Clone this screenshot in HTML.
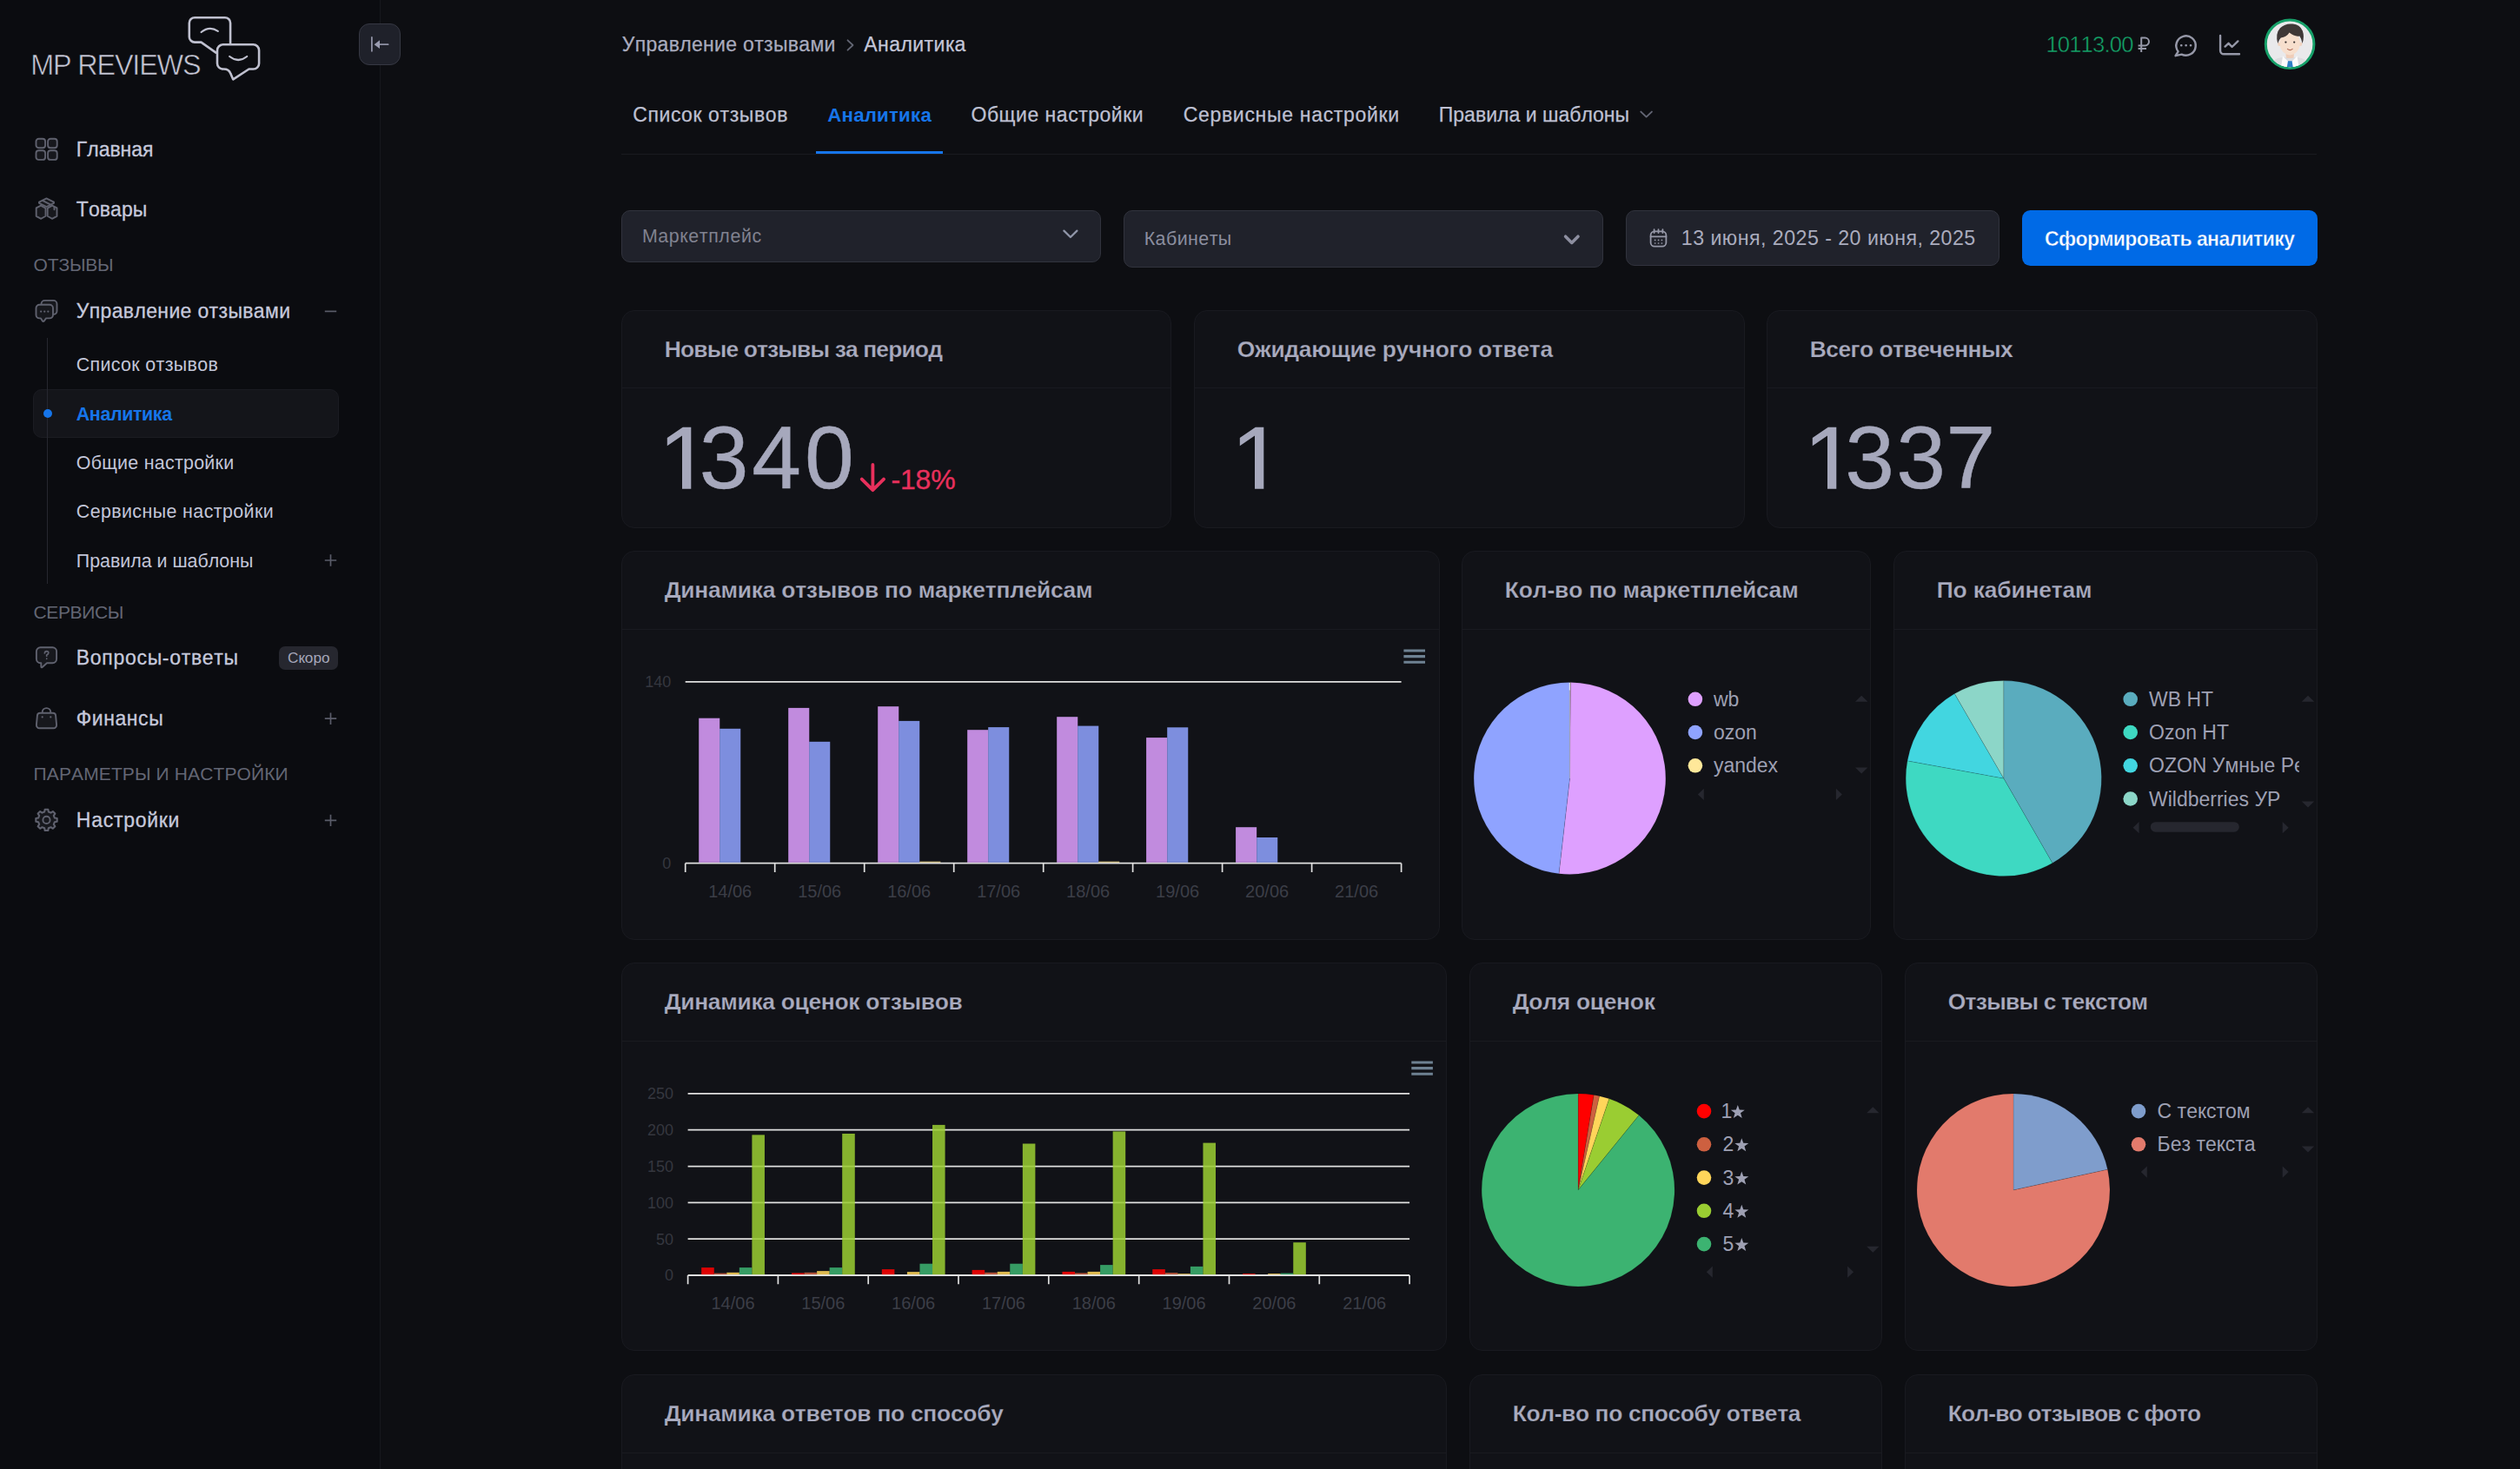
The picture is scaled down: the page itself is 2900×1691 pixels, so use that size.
<!DOCTYPE html>
<html lang="ru"><head><meta charset="utf-8"><title>MP Reviews — Аналитика</title>
<style>
html,body{margin:0;padding:0;background:#0d0e12;}
body{width:2900px;height:1691px;overflow:hidden;position:relative;font-family:"Liberation Sans",sans-serif;font-kerning:none;}
.t{position:absolute;white-space:nowrap;margin:0;}
.b{position:absolute;box-sizing:border-box;}
.card{background:#111217;border:1px solid #191a20;border-radius:15px;}
.sep{position:absolute;left:0;right:0;height:1px;background:#191a20;}
svg#g{position:absolute;left:0;top:0;width:2900px;height:1691px;font-family:"Liberation Sans",sans-serif;font-kerning:none;}
</style></head>
<body>
<aside>
<div class="b" style="left:0.00px;top:0.00px;width:438.40px;height:1691.00px;background:#0b0c10;border-right:1.4px solid #16181d;"></div>
<div class="t " style="left:35.20px;top:57.00px;font-size:32.40px;line-height:36px;color:#c6c7d6;letter-spacing:-1.169px;-webkit-text-stroke:0.60px #0b0c10;">MP REVIEWS</div>
<div class="b" style="left:413.00px;top:27.00px;width:48.00px;height:48.00px;background:#1f212a;border:1px solid #363843;border-radius:12.00px;"></div>
<div class="t " style="left:87.80px;top:159.00px;font-size:23.00px;line-height:26px;color:#c6c9dc;letter-spacing:-0.022px;-webkit-text-stroke:0.30px #c6c9dc;">Главная</div>
<div class="t " style="left:87.80px;top:227.50px;font-size:23.00px;line-height:26px;color:#c6c9dc;letter-spacing:0.065px;-webkit-text-stroke:0.30px #c6c9dc;">Товары</div>
<div class="t " style="left:38.60px;top:293.40px;font-size:21.00px;line-height:23px;color:#636674;letter-spacing:-0.187px;">ОТЗЫВЫ</div>
<div class="t " style="left:87.80px;top:345.20px;font-size:23.00px;line-height:26px;color:#c6c9dc;letter-spacing:0.351px;-webkit-text-stroke:0.30px #c6c9dc;">Управление отзывами</div>
<div class="t " style="left:87.80px;top:407.50px;font-size:21.40px;line-height:24px;color:#c3c6d9;letter-spacing:0.366px;">Список отзывов</div>
<div class="b" style="left:38.30px;top:448.30px;width:351.60px;height:55.40px;background:#14151a;border:1px solid #1b1c22;border-radius:10.00px;"></div>
<div class="b" style="left:53.50px;top:389.00px;width:1.40px;height:283.00px;background:#26272f;"></div>
<div class="b" style="left:49.70px;top:470.70px;width:10.00px;height:10.00px;background:#1675ea;border-radius:5.00px;"></div>
<div class="t " style="left:87.80px;top:464.50px;font-size:21.40px;line-height:24px;color:#1675ea;font-weight:700;letter-spacing:-0.372px;">Аналитика</div>
<div class="t " style="left:87.80px;top:520.60px;font-size:21.40px;line-height:24px;color:#c3c6d9;letter-spacing:0.271px;">Общие настройки</div>
<div class="t " style="left:87.80px;top:576.80px;font-size:21.40px;line-height:24px;color:#c3c6d9;letter-spacing:0.404px;">Сервисные настройки</div>
<div class="t " style="left:87.80px;top:633.80px;font-size:21.40px;line-height:24px;color:#c3c6d9;letter-spacing:-0.003px;">Правила и шаблоны</div>
<div class="t " style="left:38.60px;top:692.80px;font-size:21.00px;line-height:23px;color:#636674;letter-spacing:-0.389px;">СЕРВИСЫ</div>
<div class="t " style="left:87.80px;top:744.30px;font-size:23.00px;line-height:26px;color:#c6c9dc;letter-spacing:0.695px;-webkit-text-stroke:0.30px #c6c9dc;">Вопросы-ответы</div>
<div class="b" style="left:321.00px;top:744.00px;width:67.70px;height:26.60px;background:#26272f;border-radius:7.00px;"></div>
<div class="t " style="left:331.00px;top:747.30px;font-size:17.20px;line-height:20px;color:#a5a7ba;letter-spacing:-0.036px;">Скоро</div>
<div class="t " style="left:87.80px;top:814.00px;font-size:23.00px;line-height:26px;color:#c6c9dc;letter-spacing:0.557px;-webkit-text-stroke:0.30px #c6c9dc;">Финансы</div>
<div class="t " style="left:38.60px;top:879.00px;font-size:21.00px;line-height:23px;color:#636674;letter-spacing:0.114px;">ПАРАМЕТРЫ И НАСТРОЙКИ</div>
<div class="t " style="left:87.80px;top:931.20px;font-size:23.00px;line-height:26px;color:#c6c9dc;letter-spacing:0.728px;-webkit-text-stroke:0.30px #c6c9dc;">Настройки</div>
</aside>
<header>
<div class="t " style="left:715.80px;top:38.00px;font-size:23.00px;line-height:26px;color:#a9abbe;letter-spacing:0.318px;-webkit-text-stroke:0.25px #a9abbe;">Управление отзывами</div>
<div class="t " style="left:994.30px;top:38.00px;font-size:23.00px;line-height:26px;color:#c4c6d8;letter-spacing:0.445px;-webkit-text-stroke:0.25px #c4c6d8;">Аналитика</div>
<div class="t " style="left:2354.40px;top:36.70px;font-size:25.60px;line-height:28px;color:#14a86b;letter-spacing:-0.825px;-webkit-text-stroke:0.50px #0d0e12;">10113.00</div>
</header>
<main>
<nav>
<div class="t " style="left:728.20px;top:119.20px;font-size:23.00px;line-height:26px;color:#bec0d2;letter-spacing:0.609px;-webkit-text-stroke:0.25px #bec0d2;">Список отзывов</div>
<div class="t " style="left:952.20px;top:120.20px;font-size:22.20px;line-height:25px;color:#1675ea;font-weight:700;letter-spacing:0.261px;">Аналитика</div>
<div class="t " style="left:1117.50px;top:119.20px;font-size:23.00px;line-height:26px;color:#bec0d2;letter-spacing:0.515px;-webkit-text-stroke:0.25px #bec0d2;">Общие настройки</div>
<div class="t " style="left:1361.70px;top:119.20px;font-size:23.00px;line-height:26px;color:#bec0d2;letter-spacing:0.692px;-webkit-text-stroke:0.25px #bec0d2;">Сервисные настройки</div>
<div class="t " style="left:1655.70px;top:119.20px;font-size:23.00px;line-height:26px;color:#bec0d2;letter-spacing:0.032px;-webkit-text-stroke:0.25px #bec0d2;">Правила и шаблоны</div>
<div class="b" style="left:715.00px;top:177.00px;width:1951.00px;height:1.40px;background:#191a20;"></div>
<div class="b" style="left:939.00px;top:174.00px;width:146.00px;height:3.00px;background:#1675ea;"></div>
</nav>
<section>
<div class="b" style="left:715.00px;top:242.00px;width:552.00px;height:60.00px;background:#20222b;border:1px solid #31333d;border-radius:10.00px;"></div>
<div class="t " style="left:738.90px;top:260.30px;font-size:21.40px;line-height:24px;color:#808290;letter-spacing:0.597px;">Маркетплейс</div>
<div class="b" style="left:1293.00px;top:242.00px;width:552.00px;height:66.00px;background:#20222b;border:1px solid #31333d;border-radius:10.00px;"></div>
<div class="t " style="left:1316.70px;top:263.20px;font-size:21.40px;line-height:24px;color:#8b8e9f;letter-spacing:0.446px;">Кабинеты</div>
<div class="b" style="left:1871.00px;top:242.00px;width:430.00px;height:64.00px;background:#20222b;border:1px solid #31333d;border-radius:10.00px;"></div>
<div class="t " style="left:1934.80px;top:261.00px;font-size:23.20px;line-height:26px;color:#aaacbe;letter-spacing:0.465px;">13 июня, 2025 - 20 июня, 2025</div>
<div class="b" style="left:2327.00px;top:242.00px;width:340.00px;height:63.80px;background:#006ae6;border-radius:9.50px;"></div>
<div class="t " style="left:2353.00px;top:261.70px;font-size:23.00px;line-height:26px;color:#ffffff;font-weight:700;letter-spacing:-0.607px;-webkit-text-stroke:0.40px #006ae6;">Сформировать аналитику</div>
</section>
<section>
<div class="b card" style="left:715.00px;top:357.00px;width:633.00px;height:251.00px;"><div class="sep" style="top:88.00px"></div></div>
<div class="t " style="left:764.80px;top:387.20px;font-size:26.40px;line-height:30px;color:#a9abbf;font-weight:700;letter-spacing:-0.839px;-webkit-text-stroke:0.25px #111217;">Новые отзывы за период</div>
<div class="b card" style="left:1374.00px;top:357.00px;width:634.00px;height:251.00px;"><div class="sep" style="top:88.00px"></div></div>
<div class="t " style="left:1423.80px;top:387.20px;font-size:26.40px;line-height:30px;color:#a9abbf;font-weight:700;letter-spacing:-0.297px;-webkit-text-stroke:0.25px #111217;">Ожидающие ручного ответа</div>
<div class="b card" style="left:2033.00px;top:357.00px;width:634.00px;height:251.00px;"><div class="sep" style="top:88.00px"></div></div>
<div class="t " style="left:2082.80px;top:387.20px;font-size:26.40px;line-height:30px;color:#a9abbf;font-weight:700;letter-spacing:-0.532px;-webkit-text-stroke:0.25px #111217;">Всего отвеченных</div>
<div class="t " style="left:804.72px;top:470.40px;font-size:102.00px;line-height:114px;color:#a6a8bc;-webkit-text-stroke:0.50px #a6a8bc;">3</div>
<div class="t " style="left:865.36px;top:470.40px;font-size:102.00px;line-height:114px;color:#a6a8bc;-webkit-text-stroke:0.50px #a6a8bc;">4</div>
<div class="t " style="left:926.12px;top:470.40px;font-size:102.00px;line-height:114px;color:#a6a8bc;-webkit-text-stroke:0.50px #a6a8bc;">0</div>
<div class="t " style="left:2123.22px;top:470.40px;font-size:102.00px;line-height:114px;color:#a6a8bc;-webkit-text-stroke:0.50px #a6a8bc;">3</div>
<div class="t " style="left:2182.32px;top:470.40px;font-size:102.00px;line-height:114px;color:#a6a8bc;-webkit-text-stroke:0.50px #a6a8bc;">3</div>
<div class="t " style="left:2239.47px;top:470.40px;font-size:102.00px;line-height:114px;color:#a6a8bc;-webkit-text-stroke:0.50px #a6a8bc;">7</div>
<div class="t " style="left:1025.40px;top:534.10px;font-size:32.00px;line-height:36px;color:#e8305c;letter-spacing:-0.134px;-webkit-text-stroke:0.35px #e8305c;">-18%</div>
<div class="b card" style="left:715.00px;top:634.00px;width:942.00px;height:448.00px;"><div class="sep" style="top:89.00px"></div></div>
<div class="t " style="left:764.80px;top:664.20px;font-size:26.40px;line-height:30px;color:#a9abbf;font-weight:700;letter-spacing:-0.234px;-webkit-text-stroke:0.25px #111217;">Динамика отзывов по маркетплейсам</div>
<div class="b card" style="left:1682.00px;top:634.00px;width:471.00px;height:448.00px;"><div class="sep" style="top:89.00px"></div></div>
<div class="t " style="left:1731.80px;top:664.20px;font-size:26.40px;line-height:30px;color:#a9abbf;font-weight:700;letter-spacing:-0.117px;-webkit-text-stroke:0.25px #111217;">Кол-во по маркетплейсам</div>
<div class="b card" style="left:2179.00px;top:634.00px;width:488.00px;height:448.00px;"><div class="sep" style="top:89.00px"></div></div>
<div class="t " style="left:2228.80px;top:664.20px;font-size:26.40px;line-height:30px;color:#a9abbf;font-weight:700;letter-spacing:-0.167px;-webkit-text-stroke:0.25px #111217;">По кабинетам</div>
<div class="b card" style="left:715.00px;top:1108.00px;width:950.00px;height:447.00px;"><div class="sep" style="top:89.00px"></div></div>
<div class="t " style="left:764.80px;top:1138.20px;font-size:26.40px;line-height:30px;color:#a9abbf;font-weight:700;letter-spacing:-0.301px;-webkit-text-stroke:0.25px #111217;">Динамика оценок отзывов</div>
<div class="b card" style="left:1691.00px;top:1108.00px;width:475.00px;height:447.00px;"><div class="sep" style="top:89.00px"></div></div>
<div class="t " style="left:1740.80px;top:1138.20px;font-size:26.40px;line-height:30px;color:#a9abbf;font-weight:700;letter-spacing:-0.267px;-webkit-text-stroke:0.25px #111217;">Доля оценок</div>
<div class="b card" style="left:2192.00px;top:1108.00px;width:475.00px;height:447.00px;"><div class="sep" style="top:89.00px"></div></div>
<div class="t " style="left:2241.80px;top:1138.20px;font-size:26.40px;line-height:30px;color:#a9abbf;font-weight:700;letter-spacing:-0.737px;-webkit-text-stroke:0.25px #111217;">Отзывы с текстом</div>
<div class="b card" style="left:715.00px;top:1582.00px;width:950.00px;height:448.00px;"><div class="sep" style="top:89.00px"></div></div>
<div class="t " style="left:764.80px;top:1612.20px;font-size:26.40px;line-height:30px;color:#a9abbf;font-weight:700;letter-spacing:-0.269px;-webkit-text-stroke:0.25px #111217;">Динамика ответов по способу</div>
<div class="b card" style="left:1691.00px;top:1582.00px;width:475.00px;height:448.00px;"><div class="sep" style="top:89.00px"></div></div>
<div class="t " style="left:1740.80px;top:1612.20px;font-size:26.40px;line-height:30px;color:#a9abbf;font-weight:700;letter-spacing:-0.377px;-webkit-text-stroke:0.25px #111217;">Кол-во по способу ответа</div>
<div class="b card" style="left:2192.00px;top:1582.00px;width:475.00px;height:448.00px;"><div class="sep" style="top:89.00px"></div></div>
<div class="t " style="left:2241.80px;top:1612.20px;font-size:26.40px;line-height:30px;color:#a9abbf;font-weight:700;letter-spacing:-0.847px;-webkit-text-stroke:0.25px #111217;">Кол-во отзывов с фото</div>
</section>
</main>
<svg id="g" viewBox="0 0 2900 1691" width="2900" height="1691">
<g fill="none" stroke="#bfc0cf" stroke-width="2.6" stroke-linecap="round" stroke-linejoin="round"><path d="M248.5,60.6 L231.5,48.6 H224 a6.2,6.2 0 0 1 -6.2,-6.2 V26.4 a6.2,6.2 0 0 1 6.2,-6.2 H258.9 a6.2,6.2 0 0 1 6.2,6.2 V50"/><path d="M256.6,51.3 H291.5 a6.6,6.6 0 0 1 6.6,6.6 V72.9 a6.6,6.6 0 0 1 -6.6,6.6 H286.5 L268.3,91.4 L265.3,84.6 Q263.5,79.5 257.5,79.5 H256.6 a6.6,6.6 0 0 1 -6.6,-6.6 V57.9 a6.6,6.6 0 0 1 6.6,-6.6 Z"/><path d="M231.6,37 Q241,29.3 250.8,35.8" stroke-width="2.2"/><path d="M264.2,65 Q274.2,73 284.2,65" stroke-width="2.2"/></g>
<g fill="none" stroke="#8f91a4" stroke-width="1.8" stroke-linecap="round" stroke-linejoin="round"><path d="M427.9,43 V58.8"/><path d="M446.6,51.2 H436"/></g><path d="M430.6,51.2 L437,46.3 V56.1 Z" fill="#9a9cb0"/>
<g transform="translate(40.5,158.7)" fill="#17181d" stroke="#5f616e" stroke-width="1.9" stroke-linecap="round" stroke-linejoin="round"><rect x="1.0" y="1.0" width="10.6" height="10.6" rx="3"/><rect x="1.0" y="14.6" width="10.6" height="10.6" rx="3"/><rect x="14.6" y="1.0" width="10.6" height="10.6" rx="3"/><rect x="14.6" y="14.6" width="10.6" height="10.6" rx="3"/></g>
<g transform="translate(40.5,227.2)" fill="#17181d" stroke="#5f616e" stroke-width="1.9" stroke-linecap="round" stroke-linejoin="round"><path d="M13,1.2 L21.5,5.4 V6.6 L13,10.8 L4.5,6.6 V5.4 Z"/><path d="M8.5,3.6 L17.3,8.2"/><path d="M1.2,12.2 L6.5,9.4 L12,12.4 V21.6 L6.8,24.6 L1.2,21.6 Z"/><path d="M14.2,12.4 L19.6,9.4 L25,12.2 V21.6 L19.4,24.6 L14.2,21.6 Z"/><path d="M22,11 V14"/></g>
<g transform="translate(40.5,344.9)" fill="#17181d" stroke="#5f616e" stroke-width="1.9" stroke-linecap="round" stroke-linejoin="round"><path d="M7,5.5 V5 a4,4 0 0 1 4,-4 H21 a4,4 0 0 1 4,4 V13 a4,4 0 0 1 -4,4 H20.5"/><path d="M5,5.8 H16.5 a4,4 0 0 1 4,4 V17.5 a4,4 0 0 1 -4,4 H12.5 L10.3,24.6 Q9.3,25.6 8.4,24.6 L6.5,21.5 H5 a4,4 0 0 1 -4,-4 V9.8 a4,4 0 0 1 4,-4 Z"/><path d="M6.6,13.7 h0.1 M10.7,13.7 h0.1 M14.8,13.7 h0.1" stroke-width="2.2"/></g>
<path d="M373.8,358.4 H387.2" stroke="#5a5c69" stroke-width="1.7" fill="none"/>
<path d="M373.8,645.0 H387.2 M380.5,638.3 V651.7" stroke="#5a5c69" stroke-width="1.7" fill="none"/>
<g transform="translate(40.5,744.0)" fill="#17181d" stroke="#5f616e" stroke-width="1.9" stroke-linecap="round" stroke-linejoin="round"><path d="M6,1.2 H20 a4.6,4.6 0 0 1 4.6,4.6 V14.6 a4.6,4.6 0 0 1 -4.6,4.6 H13.5 L8.2,24 Q6.8,25 6.8,23.2 V19.2 H6 a4.6,4.6 0 0 1 -4.6,-4.6 V5.8 a4.6,4.6 0 0 1 4.6,-4.6 Z"/><path d="M10.9,8 Q11,5.6 13.2,5.6 Q15.4,5.7 15.3,7.6 Q15.2,8.9 13.2,10 V11.2 M13.2,14.2 v0.1" fill="none" stroke-width="1.7"/></g>
<g transform="translate(40.5,813.7)" fill="#17181d" stroke="#5f616e" stroke-width="1.9" stroke-linecap="round" stroke-linejoin="round"><path d="M8.2,7 V6.2 a4.8,4.8 0 0 1 9.6,0 V7" fill="none"/><path d="M5.6,7 H20.4 a3.2,3.2 0 0 1 3.2,2.9 L24.6,20.6 a3.6,3.6 0 0 1 -3.6,4 H5 a3.6,3.6 0 0 1 -3.6,-4 L2.4,9.9 a3.2,3.2 0 0 1 3.2,-2.9 Z"/><path d="M8.2,11.6 v0.1 M17.8,11.6 v0.1" stroke-width="2.2"/></g>
<path d="M373.8,827.2 H387.2 M380.5,820.5 V833.9" stroke="#5a5c69" stroke-width="1.7" fill="none"/>
<g transform="translate(40.5,930.9)" fill="#17181d" stroke="#5f616e" stroke-width="1.9" stroke-linecap="round" stroke-linejoin="round"><path d="M10.65,3.59 L11.18,0.84 L14.82,0.84 L15.35,3.59 L18.00,4.69 L20.32,3.11 L22.89,5.68 L21.31,8.00 L22.41,10.65 L25.16,11.18 L25.16,14.82 L22.41,15.35 L21.31,18.00 L22.89,20.32 L20.32,22.89 L18.00,21.31 L15.35,22.41 L14.82,25.16 L11.18,25.16 L10.65,22.41 L8.00,21.31 L5.68,22.89 L3.11,20.32 L4.69,18.00 L3.59,15.35 L0.84,14.82 L0.84,11.18 L3.59,10.65 L4.69,8.00 L3.11,5.68 L5.68,3.11 L8.00,4.69 Z" stroke-linejoin="round" stroke-width="2.1"/><circle cx="13" cy="13" r="4.1" fill="none"/></g>
<path d="M373.8,944.4 H387.2 M380.5,937.7 V951.1" stroke="#5a5c69" stroke-width="1.7" fill="none"/>
<path d="M975.5,46.3 L981.5,52 L975.5,57.7" fill="none" stroke="#636674" stroke-width="1.8" stroke-linecap="round" stroke-linejoin="round"/>
<g fill="none" stroke="#9698a8" stroke-width="2" stroke-linecap="butt" stroke-linejoin="round"><path d="M2464.2,60 V43.6 H2468.6 a4.3,4.3 0 0 1 0,8.8 H2460.6"/><path d="M2460.6,56 H2470"/></g>
<g fill="none" stroke="#9698a8" stroke-width="2.4" stroke-linecap="round" stroke-linejoin="round"><path d="M2506.6,59.3 A11.2,11.2 0 1 1 2510.6,62.6 L2503.6,64.2 Z"/><path d="M2510.2,52.3 h0.1 M2515.6,52.3 h0.1 M2521,52.3 h0.1" stroke-width="2.6"/></g>
<g fill="none" stroke="#9698a8" stroke-width="2.4" stroke-linecap="round" stroke-linejoin="round"><path d="M2555.1,41 V58.3 a4,4 0 0 0 4,4 H2577"/><path d="M2560.6,53.6 L2564.6,49.8 L2568.6,54 L2575.4,47.4"/></g>
<defs><clipPath id="avc"><circle cx="2635.1" cy="50.8" r="26.4"/></clipPath></defs><circle cx="2635.1" cy="50.8" r="27.8" fill="#e9e9eb" stroke="#16a069" stroke-width="3"/><g clip-path="url(#avc)"><path d="M2611,80 Q2613,67.5 2626,66 L2644,66 Q2657,67.5 2659,80 Z" fill="#dddde0"/><path d="M2627,64.5 L2635.3,73 L2643.6,64.5 L2646,80 H2624.6 Z" fill="#fbfbfb"/><path d="M2633,70.2 h4.6 l1.6,9.8 h-7.8 Z" fill="#2f7fc6"/><rect x="2630.6" y="58" width="9.2" height="9" rx="2" fill="#efcdb8"/><circle cx="2623.4" cy="50.8" r="2.3" fill="#f1d3bf"/><circle cx="2647" cy="50.8" r="2.3" fill="#f1d3bf"/><ellipse cx="2635.2" cy="49.6" rx="11.6" ry="13.8" fill="#f7dfcd"/><path d="M2621.2,50 Q2618.2,38.5 2624,32.2 Q2630,26.6 2638.4,27.6 Q2646.6,28.4 2649.8,35.4 Q2652.2,42 2649.6,50 Q2648.6,44.6 2646.4,41.4 Q2640.6,42.6 2634.6,37.6 Q2631.6,42.4 2624.8,43.6 Q2622.4,46.2 2621.2,50 Z" fill="#3f3837"/><circle cx="2630.4" cy="48.6" r="1.15" fill="#3a3433"/><circle cx="2640.2" cy="48.6" r="1.15" fill="#3a3433"/><path d="M2632.4,56.4 Q2635.3,58.8 2638.2,56.4" fill="none" stroke="#b5705c" stroke-width="1.1" stroke-linecap="round"/></g>
<path d="M1888.3,128.6 L1894.6,134.6 L1900.9,128.6" fill="none" stroke="#636674" stroke-width="1.9" stroke-linecap="round" stroke-linejoin="round"/>
<path d="M1224.4,265.6 L1231.9,273 L1239.4,265.6" fill="none" stroke="#8f95a8" stroke-width="2.3" stroke-linecap="round" stroke-linejoin="round"/>
<path d="M1801.6,272.2 L1808.8,279.4 L1816,272.2" fill="none" stroke="#8d8fa0" stroke-width="3.6" stroke-linecap="round" stroke-linejoin="round"/>
<g fill="none" stroke="#9698a8" stroke-width="1.8" stroke-linecap="round" stroke-linejoin="round"><rect x="1899.6" y="266.4" width="17.8" height="17.2" rx="4.4"/><path d="M1899.6,272.4 H1917.4"/><path d="M1903.6,264.2 V268 M1908.5,264.2 V268 M1913.4,264.2 V268"/><path d="M1904.6,276.4 h0.1 M1908.5,276.4 h0.1 M1912.4,276.4 h0.1 M1904.6,280 h0.1 M1908.5,280 h0.1 M1912.4,280 h0.1" stroke-width="1.7"/></g>
<polygon points="795.3,491.8 795.3,562.7 785.0,562.7 785.0,501.6 767.8,513.2 767.8,504.0 785.8,491.8" fill="#a6a8bc"/>
<polygon points="1454.3,491.8 1454.3,562.7 1444.0,562.7 1444.0,501.6 1426.8,513.2 1426.8,504.0 1444.8,491.8" fill="#a6a8bc"/>
<polygon points="2113.3,491.8 2113.3,562.7 2103.0,562.7 2103.0,501.6 2085.8,513.2 2085.8,504.0 2103.8,491.8" fill="#a6a8bc"/>
<path d="M1004.4,535 V563.6 M991.8,551.6 L1004.4,564.2 L1017,551.6" fill="none" stroke="#e8305c" stroke-width="3.8" stroke-linecap="round" stroke-linejoin="round"/>
<path d="M788.7,784.9 H1612.6 M788.7,993.7 H1612.6" stroke="#e0e0e0" stroke-width="1.8" fill="none"/>
<path d="M788.7,993.7 V1003.9 M891.7,993.7 V1003.9 M994.7,993.7 V1003.9 M1097.7,993.7 V1003.9 M1200.7,993.7 V1003.9 M1303.6,993.7 V1003.9 M1406.6,993.7 V1003.9 M1509.6,993.7 V1003.9 M1612.6,993.7 V1003.9" stroke="#e0e0e0" stroke-width="1.7" fill="none"/>
<text x="772.30" y="791.40" font-size="18.00" fill="#35373f" text-anchor="end">140</text>
<text x="772.30" y="1000.00" font-size="18.00" fill="#35373f" text-anchor="end">0</text>
<text x="840.19" y="1033.20" font-size="20.00" fill="#3c3e47" text-anchor="middle">14/06</text>
<text x="943.18" y="1033.20" font-size="20.00" fill="#3c3e47" text-anchor="middle">15/06</text>
<text x="1046.17" y="1033.20" font-size="20.00" fill="#3c3e47" text-anchor="middle">16/06</text>
<text x="1149.16" y="1033.20" font-size="20.00" fill="#3c3e47" text-anchor="middle">17/06</text>
<text x="1252.14" y="1033.20" font-size="20.00" fill="#3c3e47" text-anchor="middle">18/06</text>
<text x="1355.13" y="1033.20" font-size="20.00" fill="#3c3e47" text-anchor="middle">19/06</text>
<text x="1458.12" y="1033.20" font-size="20.00" fill="#3c3e47" text-anchor="middle">20/06</text>
<text x="1561.11" y="1033.20" font-size="20.00" fill="#3c3e47" text-anchor="middle">21/06</text>
<rect x="804.2" y="826.7" width="24.05" height="166.1" fill="#dea0ff" fill-opacity=".86"/>
<rect x="828.2" y="838.8" width="24.05" height="154.0" fill="#8fa3ff" fill-opacity=".86"/>
<rect x="907.2" y="814.9" width="24.05" height="177.9" fill="#dea0ff" fill-opacity=".86"/>
<rect x="931.2" y="853.8" width="24.05" height="139.0" fill="#8fa3ff" fill-opacity=".86"/>
<rect x="1010.2" y="813.2" width="24.05" height="179.6" fill="#dea0ff" fill-opacity=".86"/>
<rect x="1034.2" y="829.9" width="24.05" height="162.9" fill="#8fa3ff" fill-opacity=".86"/>
<rect x="1058.3" y="991.6" width="24.05" height="1.4" fill="#ffe89a" fill-opacity=".7"/>
<rect x="1113.2" y="840.2" width="24.05" height="152.6" fill="#dea0ff" fill-opacity=".86"/>
<rect x="1137.2" y="837.1" width="24.05" height="155.7" fill="#8fa3ff" fill-opacity=".86"/>
<rect x="1216.2" y="825.2" width="24.05" height="167.6" fill="#dea0ff" fill-opacity=".86"/>
<rect x="1240.2" y="835.6" width="24.05" height="157.2" fill="#8fa3ff" fill-opacity=".86"/>
<rect x="1264.2" y="991.6" width="24.05" height="1.4" fill="#ffe89a" fill-opacity=".7"/>
<rect x="1319.1" y="849.1" width="24.05" height="143.7" fill="#dea0ff" fill-opacity=".86"/>
<rect x="1343.2" y="837.3" width="24.05" height="155.5" fill="#8fa3ff" fill-opacity=".86"/>
<rect x="1422.1" y="952.2" width="24.05" height="40.6" fill="#dea0ff" fill-opacity=".86"/>
<rect x="1446.2" y="964.0" width="24.05" height="28.8" fill="#8fa3ff" fill-opacity=".86"/>
<path d="M1615.4,749.0 h24.6 M1615.4,755.6 h24.6 M1615.4,762.2 h24.6" stroke="#6e8192" stroke-width="3.1" fill="none"/>
<path d="M791.6,1258.9 H1622.1 M791.6,1300.7 H1622.1 M791.6,1342.6 H1622.1 M791.6,1384.4 H1622.1 M791.6,1426.2 H1622.1 M791.6,1468.0 H1622.1" stroke="#e0e0e0" stroke-width="1.8" fill="none"/>
<path d="M791.6,1468.0 V1478.2 M895.4,1468.0 V1478.2 M999.2,1468.0 V1478.2 M1103.0,1468.0 V1478.2 M1206.8,1468.0 V1478.2 M1310.7,1468.0 V1478.2 M1414.5,1468.0 V1478.2 M1518.3,1468.0 V1478.2 M1622.1,1468.0 V1478.2" stroke="#e0e0e0" stroke-width="1.7" fill="none"/>
<text x="775.00" y="1265.30" font-size="18.00" fill="#35373f" text-anchor="end">250</text>
<text x="775.00" y="1307.10" font-size="18.00" fill="#35373f" text-anchor="end">200</text>
<text x="775.00" y="1349.00" font-size="18.00" fill="#35373f" text-anchor="end">150</text>
<text x="775.00" y="1390.80" font-size="18.00" fill="#35373f" text-anchor="end">100</text>
<text x="775.00" y="1432.60" font-size="18.00" fill="#35373f" text-anchor="end">50</text>
<text x="775.00" y="1474.40" font-size="18.00" fill="#35373f" text-anchor="end">0</text>
<text x="843.51" y="1506.90" font-size="20.00" fill="#3c3e47" text-anchor="middle">14/06</text>
<text x="947.32" y="1506.90" font-size="20.00" fill="#3c3e47" text-anchor="middle">15/06</text>
<text x="1051.13" y="1506.90" font-size="20.00" fill="#3c3e47" text-anchor="middle">16/06</text>
<text x="1154.94" y="1506.90" font-size="20.00" fill="#3c3e47" text-anchor="middle">17/06</text>
<text x="1258.76" y="1506.90" font-size="20.00" fill="#3c3e47" text-anchor="middle">18/06</text>
<text x="1362.57" y="1506.90" font-size="20.00" fill="#3c3e47" text-anchor="middle">19/06</text>
<text x="1466.38" y="1506.90" font-size="20.00" fill="#3c3e47" text-anchor="middle">20/06</text>
<text x="1570.19" y="1506.90" font-size="20.00" fill="#3c3e47" text-anchor="middle">21/06</text>
<rect x="807.20" y="1459.10" width="14.55" height="8.00" fill="#ff0000" fill-opacity=".86"/>
<rect x="821.75" y="1465.60" width="14.55" height="1.50" fill="#cd6040" fill-opacity=".86"/>
<rect x="836.30" y="1464.80" width="14.55" height="2.30" fill="#ffd55a" fill-opacity=".86"/>
<rect x="850.85" y="1459.10" width="14.55" height="8.00" fill="#3cb371" fill-opacity=".86"/>
<rect x="865.40" y="1306.40" width="14.55" height="160.70" fill="#9acd32" fill-opacity=".86"/>
<rect x="911.01" y="1465.40" width="14.55" height="1.70" fill="#ff0000" fill-opacity=".86"/>
<rect x="925.56" y="1464.80" width="14.55" height="2.30" fill="#cd6040" fill-opacity=".86"/>
<rect x="940.11" y="1463.10" width="14.55" height="4.00" fill="#ffd55a" fill-opacity=".86"/>
<rect x="954.66" y="1459.10" width="14.55" height="8.00" fill="#3cb371" fill-opacity=".86"/>
<rect x="969.21" y="1305.00" width="14.55" height="162.10" fill="#9acd32" fill-opacity=".86"/>
<rect x="1014.83" y="1461.10" width="14.55" height="6.00" fill="#ff0000" fill-opacity=".86"/>
<rect x="1043.92" y="1464.10" width="14.55" height="3.00" fill="#ffd55a" fill-opacity=".86"/>
<rect x="1058.48" y="1454.70" width="14.55" height="12.40" fill="#3cb371" fill-opacity=".86"/>
<rect x="1073.03" y="1294.90" width="14.55" height="172.20" fill="#9acd32" fill-opacity=".86"/>
<rect x="1118.64" y="1461.90" width="14.55" height="5.20" fill="#ff0000" fill-opacity=".86"/>
<rect x="1133.19" y="1464.80" width="14.55" height="2.30" fill="#cd6040" fill-opacity=".86"/>
<rect x="1147.74" y="1463.90" width="14.55" height="3.20" fill="#ffd55a" fill-opacity=".86"/>
<rect x="1162.29" y="1454.70" width="14.55" height="12.40" fill="#3cb371" fill-opacity=".86"/>
<rect x="1176.84" y="1316.50" width="14.55" height="150.60" fill="#9acd32" fill-opacity=".86"/>
<rect x="1222.45" y="1463.90" width="14.55" height="3.20" fill="#ff0000" fill-opacity=".86"/>
<rect x="1237.00" y="1465.40" width="14.55" height="1.70" fill="#cd6040" fill-opacity=".86"/>
<rect x="1251.55" y="1463.90" width="14.55" height="3.20" fill="#ffd55a" fill-opacity=".86"/>
<rect x="1266.10" y="1456.10" width="14.55" height="11.00" fill="#3cb371" fill-opacity=".86"/>
<rect x="1280.65" y="1302.40" width="14.55" height="164.70" fill="#9acd32" fill-opacity=".86"/>
<rect x="1326.26" y="1461.10" width="14.55" height="6.00" fill="#ff0000" fill-opacity=".86"/>
<rect x="1340.81" y="1465.10" width="14.55" height="2.00" fill="#cd6040" fill-opacity=".86"/>
<rect x="1355.36" y="1466.20" width="14.55" height="0.90" fill="#ffd55a" fill-opacity=".86"/>
<rect x="1369.91" y="1457.90" width="14.55" height="9.20" fill="#3cb371" fill-opacity=".86"/>
<rect x="1384.46" y="1315.60" width="14.55" height="151.50" fill="#9acd32" fill-opacity=".86"/>
<rect x="1430.07" y="1466.10" width="14.55" height="1.00" fill="#ff0000" fill-opacity=".86"/>
<rect x="1459.17" y="1466.10" width="14.55" height="1.00" fill="#ffd55a" fill-opacity=".86"/>
<rect x="1473.72" y="1465.60" width="14.55" height="1.50" fill="#3cb371" fill-opacity=".86"/>
<rect x="1488.27" y="1430.20" width="14.55" height="36.90" fill="#9acd32" fill-opacity=".86"/>
<path d="M1624.3,1223.0 h24.6 M1624.3,1229.6 h24.6 M1624.3,1236.2 h24.6" stroke="#6e8192" stroke-width="3.1" fill="none"/>
<path d="M1806.50,896.00 L1806.50,785.60 A110.40,110.40 0 0 1 1807.46,785.60 Z" fill="#ffe89a" stroke="#000" stroke-width="0.5" stroke-opacity=".22"/>
<path d="M1806.50,896.00 L1807.46,785.60 A110.40,110.40 0 1 1 1794.00,1005.69 Z" fill="#dea0ff" stroke="#000" stroke-width="0.5" stroke-opacity=".22"/>
<path d="M1806.50,896.00 L1794.00,1005.69 A110.40,110.40 0 0 1 1806.50,785.60 Z" fill="#8fa3ff" stroke="#000" stroke-width="0.5" stroke-opacity=".22"/>
<path d="M1806.5,786 V896" stroke="#c9c2cf" stroke-opacity=".75" stroke-width="0.8"/><path d="M1806.3,786 V794.5" stroke="#f4f4f4" stroke-width="0.9"/>
<circle cx="1950.9" cy="804.8" r="8.3" fill="#dea0ff"/>
<text x="1971.90" y="812.90" font-size="23.00" fill="#9ea0b3">wb</text>
<circle cx="1950.9" cy="843.0" r="8.3" fill="#8fa3ff"/>
<text x="1971.90" y="851.15" font-size="23.00" fill="#9ea0b3">ozon</text>
<circle cx="1950.9" cy="881.3" r="8.3" fill="#ffe89a"/>
<text x="1971.90" y="889.40" font-size="23.00" fill="#9ea0b3">yandex</text>
<path d="M2142.2,800.8 l7.2,7 h-14.4 Z M2142.2,890.6 l7.2,-7 h-14.4 Z" fill="#26272f"/>
<path d="M1953.8,914.4 l7,-6.6 v13.2 Z M2119.9,914.4 l-7,-6.6 v13.2 Z" fill="#26272f"/>
<path d="M2305.80,896.00 L2305.80,783.40 A112.60,112.60 0 0 1 2361.93,993.61 Z" fill="#5aacbe" stroke="#000" stroke-width="0.5" stroke-opacity=".22"/>
<path d="M2305.80,896.00 L2361.93,993.61 A112.60,112.60 0 0 1 2195.01,875.87 Z" fill="#3ed9c2" stroke="#000" stroke-width="0.5" stroke-opacity=".22"/>
<path d="M2305.80,896.00 L2195.01,875.87 A112.60,112.60 0 0 1 2249.33,798.58 Z" fill="#42d6e0" stroke="#000" stroke-width="0.5" stroke-opacity=".22"/>
<path d="M2305.80,896.00 L2249.33,798.58 A112.60,112.60 0 0 1 2305.80,783.40 Z" fill="#8cd6c8" stroke="#000" stroke-width="0.5" stroke-opacity=".22"/>
<defs><clipPath id="lc"><rect x="2440" y="780" width="205.8" height="160"/></clipPath></defs>
<circle cx="2451.7" cy="804.8" r="8.3" fill="#5aacbe"/>
<g clip-path="url(#lc)">
<text x="2473.00" y="812.90" font-size="23.00" fill="#9ea0b3">WB HT</text>
</g>
<circle cx="2451.7" cy="843.0" r="8.3" fill="#3ed9c2"/>
<g clip-path="url(#lc)">
<text x="2473.00" y="851.15" font-size="23.00" fill="#9ea0b3">Ozon HT</text>
</g>
<circle cx="2451.7" cy="881.3" r="8.3" fill="#42d6e0"/>
<g clip-path="url(#lc)">
<text x="2473.00" y="889.40" font-size="23.00" fill="#9ea0b3">OZON Умные Решения</text>
</g>
<circle cx="2451.7" cy="919.5" r="8.3" fill="#8cd6c8"/>
<g clip-path="url(#lc)">
<text x="2473.00" y="927.65" font-size="23.00" fill="#9ea0b3">Wildberries УР</text>
</g>
<path d="M2656.0,800.8 l7.2,7 h-14.4 Z M2656.0,929.4 l7.2,-7 h-14.4 Z" fill="#26272f"/>
<path d="M2454.6,952.7 l7,-6.6 v13.2 Z M2633.7,952.7 l-7,-6.6 v13.2 Z" fill="#26272f"/>
<rect x="2474.8" y="946.2" width="102" height="11.5" rx="5.7" fill="#26272f"/>
<path d="M1816.10,1369.90 L1816.10,1258.90 A111.00,111.00 0 0 1 1834.23,1260.39 Z" fill="#ff0000" stroke="#000" stroke-width="0.5" stroke-opacity=".22"/>
<path d="M1816.10,1369.90 L1834.23,1260.39 A111.00,111.00 0 0 1 1840.69,1261.66 Z" fill="#cd6040" stroke="#000" stroke-width="0.5" stroke-opacity=".22"/>
<path d="M1816.10,1369.90 L1840.69,1261.66 A111.00,111.00 0 0 1 1851.87,1264.82 Z" fill="#ffd55a" stroke="#000" stroke-width="0.5" stroke-opacity=".22"/>
<path d="M1816.10,1369.90 L1851.87,1264.82 A111.00,111.00 0 0 1 1886.11,1283.76 Z" fill="#9acd32" stroke="#000" stroke-width="0.5" stroke-opacity=".22"/>
<path d="M1816.10,1369.90 L1886.11,1283.76 A111.00,111.00 0 1 1 1816.10,1258.90 Z" fill="#3cb371" stroke="#000" stroke-width="0.5" stroke-opacity=".22"/>
<circle cx="1961.0" cy="1279.1" r="8.3" fill="#ff0000"/>
<text x="1980.60" y="1287.20" font-size="23.00" fill="#9ea0b3">1</text>
<polygon points="1999.80,1271.90 2001.77,1277.58 2007.79,1277.70 2003.00,1281.34 2004.74,1287.10 1999.80,1283.66 1994.86,1287.10 1996.60,1281.34 1991.81,1277.70 1997.83,1277.58" fill="#9ea0b3"/>
<circle cx="1961.0" cy="1317.3" r="8.3" fill="#cd6040"/>
<text x="1982.60" y="1325.45" font-size="23.00" fill="#9ea0b3">2</text>
<polygon points="2004.30,1310.15 2006.27,1315.83 2012.29,1315.95 2007.50,1319.59 2009.24,1325.35 2004.30,1321.91 1999.36,1325.35 2001.10,1319.59 1996.31,1315.95 2002.33,1315.83" fill="#9ea0b3"/>
<circle cx="1961.0" cy="1355.6" r="8.3" fill="#ffd55a"/>
<text x="1982.60" y="1363.70" font-size="23.00" fill="#9ea0b3">3</text>
<polygon points="2004.30,1348.40 2006.27,1354.08 2012.29,1354.20 2007.50,1357.84 2009.24,1363.60 2004.30,1360.16 1999.36,1363.60 2001.10,1357.84 1996.31,1354.20 2002.33,1354.08" fill="#9ea0b3"/>
<circle cx="1961.0" cy="1393.8" r="8.3" fill="#9acd32"/>
<text x="1982.60" y="1401.95" font-size="23.00" fill="#9ea0b3">4</text>
<polygon points="2004.30,1386.65 2006.27,1392.33 2012.29,1392.45 2007.50,1396.09 2009.24,1401.85 2004.30,1398.41 1999.36,1401.85 2001.10,1396.09 1996.31,1392.45 2002.33,1392.33" fill="#9ea0b3"/>
<circle cx="1961.0" cy="1432.1" r="8.3" fill="#3cb371"/>
<text x="1982.60" y="1440.20" font-size="23.00" fill="#9ea0b3">5</text>
<polygon points="2004.30,1424.90 2006.27,1430.58 2012.29,1430.70 2007.50,1434.34 2009.24,1440.10 2004.30,1436.66 1999.36,1440.10 2001.10,1434.34 1996.31,1430.70 2002.33,1430.58" fill="#9ea0b3"/>
<path d="M2155.3,1274.2 l7.2,7 h-14.4 Z M2155.3,1441.8 l7.2,-7 h-14.4 Z" fill="#26272f"/>
<path d="M1963.8,1464.2 l7,-6.6 v13.2 Z M2133.1,1464.2 l-7,-6.6 v13.2 Z" fill="#26272f"/>
<path d="M2317.00,1369.90 L2317.00,1258.90 A111.00,111.00 0 0 1 2425.45,1346.25 Z" fill="#7f9dcc" stroke="#000" stroke-width="0.5" stroke-opacity=".22"/>
<path d="M2317.00,1369.90 L2425.45,1346.25 A111.00,111.00 0 1 1 2317.00,1258.90 Z" fill="#e27a6c" stroke="#000" stroke-width="0.5" stroke-opacity=".22"/>
<circle cx="2461.0" cy="1279.1" r="8.3" fill="#7f9dcc"/>
<text x="2482.60" y="1287.20" font-size="23.00" fill="#9ea0b3">С текстом</text>
<circle cx="2461.0" cy="1317.3" r="8.3" fill="#e27a6c"/>
<text x="2482.60" y="1325.45" font-size="23.00" fill="#9ea0b3">Без текста</text>
<path d="M2656.0,1274.2 l7.2,7 h-14.4 Z M2656.0,1326.6 l7.2,-7 h-14.4 Z" fill="#26272f"/>
<path d="M2463.8,1349.1 l7,-6.6 v13.2 Z M2633.7,1349.1 l-7,-6.6 v13.2 Z" fill="#26272f"/>
</svg>
</body></html>
